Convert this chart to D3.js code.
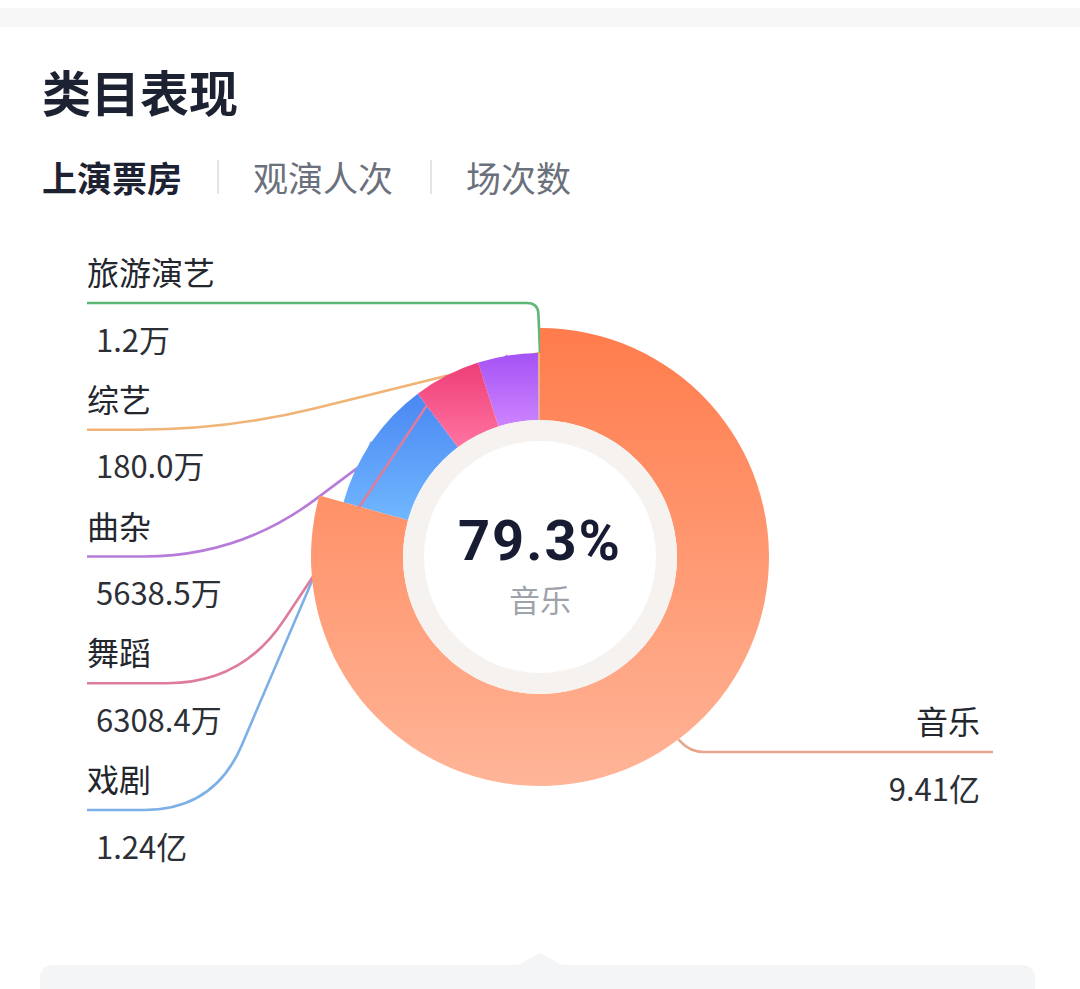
<!DOCTYPE html>
<html>
<head>
<meta charset="utf-8">
<script src="https://cdn.jsdelivr.net/npm/d3@7"></script>
<style>
body { margin: 0; background: #fff; }
text { font-family: "Noto Sans CJK SC", "Noto Sans", sans-serif; }
</style>
</head>
<body>
<svg id="chart" width="1080" height="989"></svg>
<script>
// data (values in 万)
const categories = ["音乐", "戏剧", "舞蹈", "曲杂", "综艺", "旅游演艺"];
const values = [94100, 12400, 6308.4, 5638.5, 180.0, 1.2];
const valueLabels = ["9.41亿", "1.24亿", "6308.4万", "5638.5万", "180.0万", "1.2万"];
const tabs = ["上演票房", "观演人次", "场次数"];
const highlight = "音乐";

const colorTop = ["#ff7c4c", "#4a87f3", "#ee3e77", "#a552f4", "#ebb36b", "#4cb86b"];
const colorBottom = ["#ffb598", "#70b7ff", "#ff74a1", "#cd84ff", "#ebb36b", "#4cb86b"];
const lineColor = ["#e9a58c", "#7cb0e6", "#de7c9e", "#b77cd9", "#f0b476", "#5cb874"];

// left labels top -> bottom, and how their leader lines bend
const leftOrder = ["旅游演艺", "综艺", "曲杂", "舞蹈", "戏剧"];
const leftKnee = [538, 228, 239, 242, 214];
const leftRound = [11, 90, 95, 75, 70];
// z order of slices (emphasised slice last)
const drawOrder = ["旅游演艺", "综艺", "曲杂", "戏剧", "舞蹈", "音乐"];

const svg = d3.select("#chart");
const cx = 540, cy = 557;
const rInner = 137, rOuter = 204, rHigh = 229;

// page chrome
svg.append("rect").attr("x", 0).attr("y", 8).attr("width", 1080).attr("height", 19).attr("fill", "#f7f7f8");
svg.append("rect").attr("x", 40).attr("y", 965).attr("width", 995).attr("height", 40).attr("rx", 12).attr("fill", "#f4f5f7");
svg.append("path").attr("d", "M516,966L540,953L564,966Z").attr("fill", "#f4f5f7");

svg.append("text")
  .attr("x", 42).attr("y", 90)
  .attr("dominant-baseline", "central")
  .style("font-size", "49px").style("font-weight", 700).style("fill", "#1c2232")
  .text("类目表现");

const tabX = [42, 253, 466];
svg.selectAll(".tab")
  .data(tabs)
  .join("text")
  .attr("class", "tab")
  .attr("x", (d, i) => tabX[i]).attr("y", 176)
  .attr("dominant-baseline", "central")
  .style("font-size", "35px")
  .style("font-weight", (d, i) => i === 0 ? 600 : 400)
  .style("fill", (d, i) => i === 0 ? "#1c2232" : "#6b717c")
  .text(d => d);

[218, 431].forEach(x => {
  svg.append("line").attr("x1", x).attr("x2", x).attr("y1", 160).attr("y2", 194)
    .attr("stroke", "#dcdde0").attr("stroke-width", 1.5);
});

// gradients
const defs = svg.append("defs");
categories.forEach((c, i) => {
  const g = defs.append("linearGradient").attr("id", "grad" + i)
    .attr("x1", 0).attr("y1", 0).attr("x2", 0).attr("y2", 1);
  g.append("stop").attr("offset", "0%").attr("stop-color", colorTop[i]);
  g.append("stop").attr("offset", "100%").attr("stop-color", colorBottom[i]);
});

const data = categories.map((c, i) => ({ name: c, value: values[i], label: valueLabels[i], idx: i }));
const pie = d3.pie().sort(null).value(d => d.value);
const arcs = pie(data);
const total = d3.sum(values);

const outerR = d => d.data.name === highlight ? rHigh : rOuter;
const arc = d3.arc().innerRadius(rInner).outerRadius(outerR);

function anchorPoint(d) {
  const a = (d.startAngle + d.endAngle) / 2;
  const r = outerR(d);
  return [cx + r * Math.sin(a), cy - r * Math.cos(a)];
}

function leaderPath(x0, y0, kx, T, r) {
  const dir = Math.sign(kx - x0);
  const dx = T[0] - kx, dy = T[1] - y0;
  const dist = Math.hypot(dx, dy);
  const r1 = Math.min(r, Math.abs(kx - x0));
  const r2 = Math.min(r, dist);
  return `M${x0},${y0}L${kx - dir * r1},${y0}Q${kx},${y0} ${kx + dx / dist * r2},${y0 + dy / dist * r2}L${T[0]},${T[1]}`;
}

// leader line geometry per slice
const leader = {};
leftOrder.forEach((name, i) => {
  const lineY = 303 + i * 126.75;
  leader[name] = { x0: 87, y: lineY, knee: leftKnee[i], round: leftRound[i], side: "left" };
});
leader[highlight] = { x0: 993, y: 752, knee: 690, round: 14, side: "right" };

const layer = svg.append("g");
drawOrder.forEach(name => {
  const d = arcs.find(a => a.data.name === name);
  const L = leader[name];
  const T = anchorPoint(d);
  layer.append("path")
    .attr("d", leaderPath(L.x0, L.y, L.knee, T, L.round))
    .attr("fill", "none")
    .attr("stroke", lineColor[d.data.idx])
    .attr("stroke-width", 2.6);
  layer.append("path")
    .attr("d", arc(d))
    .attr("transform", `translate(${cx},${cy})`)
    .attr("fill", `url(#grad${d.data.idx})`);
});

// inner disc
svg.append("circle").attr("cx", cx).attr("cy", cy).attr("r", rInner).attr("fill", "#f5f2ef");
svg.append("circle").attr("cx", cx).attr("cy", cy).attr("r", 116).attr("fill", "#ffffff");

// labels
arcs.forEach(d => {
  const L = leader[d.data.name];
  const right = L.side === "right";
  svg.append("text")
    .attr("x", right ? 980 : 87).attr("y", L.y - 32)
    .attr("text-anchor", right ? "end" : "start")
    .attr("dominant-baseline", "central")
    .style("font-size", "32px").style("fill", "#23262d")
    .text(d.data.name);
  svg.append("text")
    .attr("x", right ? 980 : 96).attr("y", L.y + 35)
    .attr("text-anchor", right ? "end" : "start")
    .attr("dominant-baseline", "central")
    .style("font-size", "31px").style("fill", "#2c2f36")
    .text(d.data.label);
});

// centre
const hi = arcs.find(a => a.data.name === highlight);
svg.append("text")
  .attr("x", cx).attr("y", 541)
  .attr("text-anchor", "middle").attr("dominant-baseline", "central")
  .style("font-family", "Roboto, 'DejaVu Sans', sans-serif")
  .style("font-size", "56px").style("font-weight", 700)
  .style("letter-spacing", "2px")
  .style("fill", "#171c33")
  .text(d3.format(".1%")(hi.data.value / total));
svg.append("text")
  .attr("x", cx).attr("y", 598)
  .attr("text-anchor", "middle").attr("dominant-baseline", "central")
  .style("font-size", "31px").style("fill", "#9ea3ab")
  .text(highlight);
</script>
</body>
</html>
